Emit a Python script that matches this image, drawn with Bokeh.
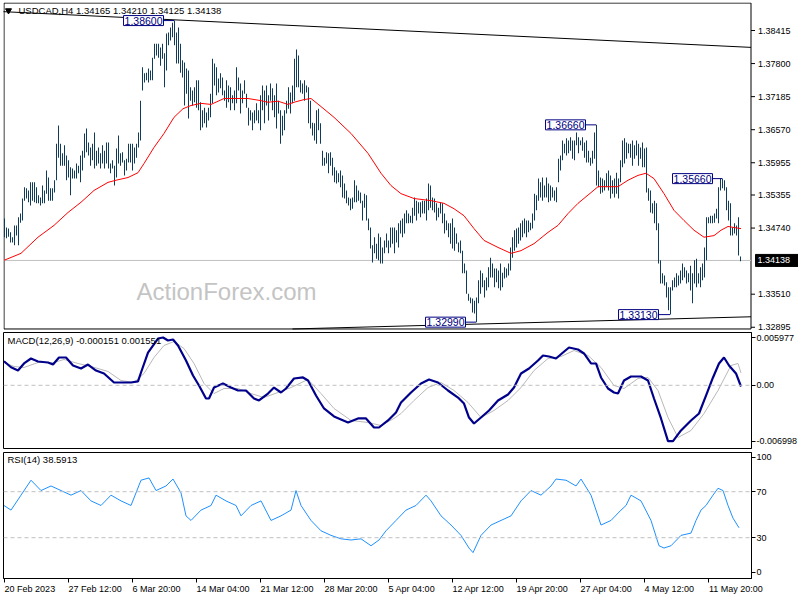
from bokeh.plotting import figure
from bokeh.layouts import column
from bokeh.models import Range1d, FixedTicker, CustomJSTickFormatter, Label, Span
from bokeh.core.properties import value
from bokeh.embed import file_html
from bokeh.resources import INLINE

# ---------------- data ----------------
high = [
1.3492,1.3475,1.3473,1.3466,1.3457,1.3479,1.3479,1.3494,1.3501,1.3529,
1.3550,1.3548,1.3544,1.3559,1.3559,1.3559,1.3550,1.3535,1.3531,1.3553,
1.3544,1.3581,1.3568,1.3548,1.3548,1.3563,1.3631,1.3665,1.3631,1.3613,
1.3628,1.3609,1.3600,1.3587,1.3585,1.3581,1.3594,1.3590,1.3609,1.3618,
1.3650,1.3659,1.3633,1.3624,1.3631,1.3652,1.3618,1.3624,1.3613,1.3628,
1.3618,1.3633,1.3633,1.3594,1.3600,1.3590,1.3622,1.3646,1.3613,1.3615,
1.3600,1.3603,1.3631,1.3631,1.3631,1.3624,1.3631,1.3652,1.3711,1.3773,
1.3762,1.3763,1.3771,1.3767,1.3791,1.3817,1.3817,1.3817,1.3810,1.3817,
1.3799,1.3836,1.3838,1.3847,1.3856,1.3860,1.3838,1.3847,1.3817,1.3786,
1.3782,1.3771,1.3767,1.3736,1.3730,1.3736,1.3749,1.3749,1.3708,1.3693,
1.3698,1.3689,1.3698,1.3724,1.3789,1.3780,1.3773,1.3752,1.3762,1.3754,
1.3730,1.3749,1.3739,1.3736,1.3721,1.3730,1.3773,1.3754,1.3743,1.3730,
1.3749,1.3724,1.3698,1.3693,1.3689,1.3693,1.3706,1.3693,1.3721,1.3739,
1.3730,1.3739,1.3721,1.3743,1.3734,1.3721,1.3743,1.3711,1.3693,1.3683,
1.3693,1.3711,1.3736,1.3726,1.3739,1.3789,1.3806,1.3795,1.3749,1.3743,
1.3749,1.3739,1.3736,1.3711,1.3670,1.3669,1.3693,1.3696,1.3669,1.3618,
1.3605,1.3615,1.3613,1.3615,1.3605,1.3587,1.3581,1.3576,1.3581,1.3572,
1.3557,1.3544,1.3531,1.3529,1.3531,1.3563,1.3553,1.3544,1.3540,1.3525,
1.3538,1.3535,1.3492,1.3475,1.3442,1.3457,1.3445,1.3464,1.3457,1.3438,
1.3451,1.3464,1.3451,1.3475,1.3475,1.3475,1.3470,1.3483,1.3488,1.3492,
1.3501,1.3507,1.3501,1.3497,1.3512,1.3531,1.3525,1.3522,1.3522,1.3525,
1.3525,1.3529,1.3557,1.3553,1.3531,1.3529,1.3520,1.3512,1.3522,1.3520,
1.3501,1.3488,1.3483,1.3483,1.3492,1.3475,1.3464,1.3447,1.3451,1.3432,
1.3408,1.3395,1.3352,1.3345,1.3343,1.3339,1.3345,1.3377,1.3395,1.3390,
1.3377,1.3382,1.3401,1.3419,1.3408,1.3399,1.3399,1.3395,1.3408,1.3391,
1.3401,1.3399,1.3408,1.3438,1.3457,1.3470,1.3473,1.3475,1.3483,1.3488,
1.3492,1.3488,1.3488,1.3484,1.3501,1.3538,1.3535,1.3566,1.3559,1.3568,
1.3553,1.3568,1.3557,1.3553,1.3550,1.3544,1.3550,1.3603,1.3609,1.3637,
1.3631,1.3641,1.3637,1.3643,1.3637,1.3637,1.3652,1.3643,1.3637,1.3643,
1.3633,1.3637,1.3618,1.3605,1.3618,1.3652,1.3666,1.3581,1.3568,1.3566,
1.3563,1.3576,1.3581,1.3572,1.3563,1.3566,1.3577,1.3566,1.3600,1.3637,
1.3641,1.3633,1.3631,1.3631,1.3637,1.3628,1.3637,1.3631,1.3624,1.3633,
1.3622,1.3624,1.3548,1.3544,1.3520,1.3525,1.3520,1.3483,1.3414,1.3390,
1.3386,1.3373,1.3364,1.3364,1.3377,1.3382,1.3390,1.3386,1.3395,1.3408,
1.3401,1.3395,1.3390,1.3404,1.3390,1.3414,1.3417,1.3390,1.3401,1.3408,
1.3438,1.3494,1.3494,1.3497,1.3497,1.3501,1.3510,1.3550,1.3566,1.3566,
1.3563,1.3550,1.3525,1.3520,1.3475,1.3483,1.3479,1.3494,1.34210]

low = [
1.3457,1.3455,1.3458,1.3447,1.3447,1.3442,1.3460,1.3442,1.3484,1.3488,
1.3525,1.3529,1.3522,1.3516,1.3525,1.3522,1.3520,1.3520,1.3516,1.3520,
1.3520,1.3538,1.3525,1.3525,1.3525,1.3540,1.3563,1.3605,1.3590,1.3590,
1.3590,1.3563,1.3568,1.3535,1.3566,1.3566,1.3566,1.3576,1.3559,1.3581,
1.3605,1.3615,1.3609,1.3590,1.3600,1.3585,1.3590,1.3594,1.3585,1.3594,
1.3585,1.3594,1.3585,1.3576,1.3585,1.3553,1.3568,1.3594,1.3590,1.3596,
1.3572,1.3581,1.3596,1.3596,1.3581,1.3594,1.3605,1.3624,1.3637,1.3730,
1.3745,1.3749,1.3745,1.3749,1.3749,1.3789,1.3795,1.3791,1.3776,1.3789,
1.3736,1.3767,1.3814,1.3823,1.3829,1.3814,1.3780,1.3780,1.3763,1.3754,
1.3702,1.3724,1.3678,1.3711,1.3702,1.3708,1.3698,1.3693,1.3656,1.3661,
1.3669,1.3661,1.3674,1.3680,1.3706,1.3739,1.3721,1.3726,1.3734,1.3721,
1.3711,1.3698,1.3708,1.3693,1.3706,1.3693,1.3706,1.3730,1.3687,1.3706,
1.3724,1.3698,1.3665,1.3674,1.3656,1.3669,1.3674,1.3669,1.3656,1.3693,
1.3669,1.3702,1.3674,1.3711,1.3693,1.3680,1.3659,1.3687,1.3631,1.3646,
1.3656,1.3687,1.3696,1.3687,1.3706,1.3711,1.3736,1.3736,1.3726,1.3724,
1.3711,1.3726,1.3669,1.3659,1.3646,1.3637,1.3631,1.3656,1.3631,1.3590,
1.3590,1.3594,1.3576,1.3590,1.3572,1.3559,1.3557,1.3559,1.3550,1.3531,
1.3529,1.3520,1.3516,1.3507,1.3510,1.3522,1.3522,1.3525,1.3520,1.3488,
1.3512,1.3488,1.3470,1.3436,1.3410,1.3427,1.3417,1.3414,1.3408,1.3408,
1.3427,1.3438,1.3427,1.3438,1.3445,1.3427,1.3447,1.3438,1.3464,1.3457,
1.3464,1.3483,1.3483,1.3484,1.3483,1.3497,1.3488,1.3501,1.3494,1.3501,
1.3501,1.3488,1.3507,1.3512,1.3507,1.3503,1.3488,1.3494,1.3501,1.3483,
1.3464,1.3470,1.3457,1.3445,1.3436,1.3432,1.3445,1.3429,1.3427,1.3390,
1.3390,1.3352,1.3339,1.3334,1.3317,1.3315,1.3299,1.3334,1.3352,1.3364,
1.3345,1.3358,1.3364,1.3382,1.3382,1.3364,1.3373,1.3362,1.3358,1.3364,
1.3380,1.3382,1.3386,1.3395,1.3419,1.3432,1.3438,1.3445,1.3451,1.3457,
1.3464,1.3457,1.3466,1.3470,1.3473,1.3488,1.3507,1.3525,1.3531,1.3525,
1.3531,1.3531,1.3522,1.3525,1.3531,1.3525,1.3522,1.3559,1.3581,1.3600,
1.3613,1.3609,1.3613,1.3618,1.3603,1.3600,1.3628,1.3613,1.3628,1.3618,
1.3605,1.3596,1.3596,1.3590,1.3594,1.3603,1.3553,1.3550,1.3538,1.3540,
1.3544,1.3550,1.3544,1.3529,1.3538,1.3531,1.3538,1.3529,1.3559,1.3587,
1.3594,1.3603,1.3613,1.3605,1.3590,1.3603,1.3609,1.3590,1.3603,1.3587,
1.3587,1.3540,1.3525,1.3503,1.3501,1.3483,1.3470,1.3408,1.3371,1.3371,
1.3367,1.3345,1.3321,1.3313,1.3358,1.3364,1.3364,1.3367,1.3371,1.3377,
1.3382,1.3371,1.3373,1.3358,1.3334,1.3371,1.3364,1.3371,1.3364,1.3377,
1.3382,1.3414,1.3483,1.3483,1.3483,1.3484,1.3492,1.3483,1.3544,1.3548,
1.3544,1.3507,1.3488,1.3460,1.3460,1.3464,1.3460,1.3423,1.34125]

ma_i = [0,8.5,17,25,32,38.5,45,52,56,62,67,70,75,80,85,89.5,93.5,98.5,103.5,110,
        115,122,128.5,132,137,142,145,150,153.5,158.5,165,173.5,182,188.5,193.5,198.5,205,213.5,220,225,
        230,235,240,247,253.5,258.5,265,272,277,282,287,293.5,297,307,312,317,321,325,330,335,
        340,345,350,355,358.5,362,365,368.5]
ma_v = [1.3414,1.3427,1.3457,1.3479,1.3503,1.3522,1.3544,1.3559,1.3563,1.3568,
        1.3577,1.3594,1.3624,1.3650,1.3680,1.3696,1.3702,1.3706,1.3704,1.3715,
        1.3715,1.3715,1.3711,1.3708,1.3710,1.3704,1.3708,1.3713,1.3715,1.3700,
        1.3680,1.3650,1.3613,1.3576,1.3553,1.3538,1.3529,1.3525,1.3520,1.3510,
        1.3497,1.3473,1.3451,1.3438,1.3427,1.3432,1.3445,1.3466,1.3479,1.3501,
        1.3520,1.3540,1.3551,1.3551,1.3563,1.3572,1.3576,1.3566,1.3538,1.3507,
        1.3488,1.3470,1.3457,1.3460,1.3470,1.3477,1.3475,1.3473]

macd_i = [0,3.5,7,10,13.5,17,22,24.5,27.5,31,34.5,38.5,42,46,50,55,60,63.5,67,68.5,
          72,77,79.5,82,84.5,87,91,94.5,97.5,101,102.5,105,109.5,113.5,117,121,125,127.5,132,135,
          138.5,141,145,149.5,152,156,160,165,172,177,181,185,187.5,192,196,198.5,203.5,208.5,212.5,217,
          222,227,230,232.5,235,238.5,242.5,247,252,255,258.5,262.5,267,269.5,272.5,276,279.5,282.5,287,290,
          293.5,296,298.5,302,305,307,310,313.5,318.5,322,325,328.5,332,334.5,338.5,343.5,347.5,351,354.5,357.5,
          360,362.5,366,368.5]
macd_v = [0.00301,0.00226,0.00185,0.00273,0.00335,0.00298,0.00285,0.00260,0.00348,0.00348,
          0.00248,0.00210,0.00260,0.00185,0.00148,0.00035,0.00035,0.00035,0.00048,0.00160,
          0.00410,0.00585,0.00598,0.00560,0.00573,0.00498,0.00310,0.00123,-0.00003,-0.00165,
          -0.00165,-0.00028,0.00023,-0.00028,-0.00065,-0.00065,-0.00165,-0.00190,-0.00103,-0.00028,
          -0.00090,-0.00040,0.00085,0.00098,0.00060,-0.00128,-0.00290,-0.00390,-0.00465,-0.00415,
          -0.00415,-0.00528,-0.00528,-0.00440,-0.00340,-0.00215,-0.00090,0.00023,0.00073,0.00035,
          -0.00065,-0.00153,-0.00228,-0.00403,-0.00478,-0.00403,-0.00315,-0.00190,-0.00115,-0.00028,
          0.00148,0.00210,0.00310,0.00373,0.00360,0.00335,0.00410,0.00473,0.00448,0.00398,
          0.00273,0.00273,0.00098,-0.00040,-0.00090,-0.00103,0.00060,0.00110,0.00110,0.00060,
          -0.00165,-0.00415,-0.00699,-0.00699,-0.00565,-0.00440,-0.00353,-0.00128,0.00098,0.00273,
          0.00348,0.00248,0.00148,-0.00015]

sig_i = [0,5,10,17,25,30,37,43.5,52,58.5,65,70,75,80,85,90,95,100,105,110,
         117,123.5,130,137,143.5,152,158.5,165,173.5,182,188.5,195,198.5,205,212,218.5,225,232,238.5,245,
         252,258.5,265,272,278.5,285,292,298.5,305,310,317,322,327,332,337,343.5,350,357,363.5,367,368.5]
sig_v = [0.00285,0.00235,0.00223,0.00285,0.00285,0.00323,0.00273,0.00235,0.00173,0.00060,
         0.00035,0.00148,0.00348,0.00498,0.00548,0.00460,0.00273,0.00023,-0.00103,-0.00040,
         -0.00040,-0.00103,-0.00153,-0.00090,-0.00028,0.00073,-0.00103,-0.00290,-0.00440,-0.00465,
         -0.00503,-0.00415,-0.00353,-0.00190,-0.00028,0.00035,-0.00065,-0.00215,-0.00403,-0.00315,
         -0.00190,-0.00028,0.00185,0.00335,0.00360,0.00435,0.00373,0.00223,-0.00003,-0.00040,
         0.00085,0.00098,-0.00065,-0.00403,-0.00653,-0.00565,-0.00353,-0.00065,0.00248,0.00273,
         0.00155]

rsi_i = [0,3.5,8.5,13.5,18.5,23.5,28.5,33.5,38.5,43.5,48.5,53.5,58.5,63.5,68.5,72.5,76,81,84.5,88.5,
         91,93.5,98.5,103.5,106,111,116,118.5,123.5,128.5,133.5,138.5,143.5,146,148.5,153.5,158.5,163.5,168.5,173.5,
         178.5,183.5,187.5,191,196,201,206,211,213.5,218.5,223.5,228.5,232.5,234.5,238.5,243.5,248.5,253.5,258.5,263.5,
         268.5,273.5,276,281,286,288.5,293.5,298.5,303.5,308.5,311,313.5,318.5,323.5,327.5,330,333.5,338.5,343.5,346,
         348.5,351,354.5,357,359.5,362,364.5,367.5]
rsi_v = [58,54,67,80,71,75,71,67,71,62,58,67,62,58,80,82,71,75,81,69,
         49,45,54,58,67,62,58,49,58,62,45,49,54,71,58,45,36,32,29,28,
         29,23,28,36,45,54,58,67,62,49,41,32,21,17,32,41,45,49,62,71,
         67,75,81,80,75,81,67,41,45,54,58,67,62,45,23,21,23,32,34,45,
         54,58,67,73,71,58,47,38.6]

x_tick_idx = [0, 32, 64, 96, 128, 160, 192, 224, 256, 288, 320, 352]
x_tick_lbl = ["20 Feb 2023", "27 Feb 12:00", "6 Mar 20:00", "14 Mar 04:00", "21 Mar 12:00",
              "28 Mar 20:00", "5 Apr 04:00", "12 Apr 12:00", "19 Apr 20:00", "27 Apr 04:00",
              "4 May 12:00", "11 May 20:00"]
price_ticks = [1.38415, 1.37800, 1.37185, 1.36570, 1.35955, 1.35355, 1.34740, 1.33510, 1.32895]
macd_ticks = [0.005977, 0.0, -0.006998]
rsi_ticks = [100, 70, 30, 0]
last_price = 1.34138

# marked extremes: (label box right edge, bar of the extreme, price, text)
marks = [(79.75, 85, 1.38600, "1.38600"), (290.75, 296, 1.36660, "1.36660"),
         (230.75, 236, 1.32990, "1.32990"), (327.25, 333, 1.33130, "1.33130"),
         (354.25, 359, 1.35660, "1.35660")]
upper_tl = ([-1.75, 373.5], [1.38768, 1.38101])
lower_tl = ([144.25, 373.5], [1.32863, 1.33090])

# ---------------- styling / layout ----------------
FONT = "Liberation Sans"
FS = "9.5px"
AFS = "9px"
BAR = "#103c5a"
PX = 2.0                    # pixels per bar
FRAME_W = 748
X0 = -0.25
X1 = X0 + FRAME_W / PX       # 373.75 : right frame edge
P_LO, P_HI = 1.32816, 1.38936   # price frame (bottom border drawn at 1.32863)
BORDER_TOP, BORDER_BOT, BORDER_R = 1.38926, 1.32863, 373.5
COL = 0.5                    # one pixel column, in bar units


def style_axis(ax, ticks, code):
    ax.ticker = FixedTicker(ticks=ticks, minor_ticks=[])
    ax.formatter = CustomJSTickFormatter(code=code)
    ax.axis_line_color = "black"
    ax.major_tick_in = 0
    ax.major_tick_out = 4
    ax.major_tick_line_color = "black"
    ax.minor_tick_line_color = None
    ax.major_label_standoff = 1
    ax.major_label_text_font = FONT
    ax.major_label_text_font_size = AFS
    ax.major_label_text_color = "black"


def base(fig):
    fig.grid.visible = False
    fig.background_fill_color = "white"
    fig.border_fill_color = "white"
    return fig


# ---------- price panel (its right-hand price scale is drawn in the widened frame) ----------
p1 = base(figure(frame_width=795, frame_height=329, x_range=Range1d(X0, X0 + 795 / PX),
                 y_range=Range1d(P_LO, P_HI), output_backend="svg", toolbar_location=None,
                 tools="", x_axis_location=None, y_axis_location=None,
                 min_border_left=3, min_border_right=0, min_border_top=2, min_border_bottom=0))
p1.outline_line_color = None
p1.line([0.0, BORDER_R, BORDER_R, 0.0, 0.0],
        [BORDER_TOP, BORDER_TOP, BORDER_BOT, BORDER_BOT, BORDER_TOP], line_color="black", line_width=1)
p1.segment(x0=[0.0], y0=[last_price], x1=[BORDER_R], y1=[last_price], line_color="#c0c0c0", line_width=1)
bars_x = list(range(len(high)))
# each H4 bar (high-low range) as a one-pixel-wide column
p1.quad(left=bars_x, right=[i + COL for i in bars_x], bottom=low, top=high,
        fill_color=BAR, line_color=None)
p1.line(ma_i, ma_v, line_color="#ff0000", line_width=1)
p1.line(upper_tl[0], upper_tl[1], line_color="black", line_width=1)
p1.line(lower_tl[0], lower_tl[1], line_color="black", line_width=1)

for box_x, bar_x, val, txt in marks:
    p1.segment(x0=[box_x], y0=[val], x1=[bar_x], y1=[val], line_color="#000080", line_width=1)
    p1.add_layout(Label(x=box_x, y=val, text=txt, text_align="right", text_baseline="middle",
                        text_font=FONT, text_font_size="10.5px", text_color="#000080",
                        background_fill_color="white", border_line_color="#000080",
                        border_line_width=1, padding=1))

p1.add_layout(Label(x=66.25, y=1.3356, text="ActionForex.com", text_font=FONT,
                    text_font_size="24px", text_color="#c4c4c4", text_baseline="middle"))
p1.scatter([2.25], [1.38787], marker="inverted_triangle", size=6, color="black")
p1.add_layout(Label(x=7.25, y=1.38787, text="USDCAD,H4  1.34165 1.34210 1.34125 1.34138",
                    text_font=FONT, text_font_size=FS, text_color="black", text_baseline="middle"))

# price scale: ticks, labels and the black box of the last price
n = len(price_ticks)
p1.segment(x0=[BORDER_R] * n, y0=price_ticks, x1=[BORDER_R + 2.0] * n, y1=price_ticks,
           line_color="black", line_width=1)
p1.text(x=[377.0] * n, y=price_ticks, text=[f"{t:.5f}" for t in price_ticks],
        text_font=value(FONT), text_font_size=value(AFS), text_color="black",
        text_baseline="middle", text_align="left")
p1.rect(x=[386.5], y=[last_price], width=43, height=12, width_units="screen",
        height_units="screen", fill_color="black", line_color="black")
p1.text(x=[376.75], y=[last_price], text=[f"{last_price:.5f}"], text_font=value(FONT),
        text_font_size=value(AFS), text_color="white", text_baseline="middle", text_align="left")

xr = Range1d(X0, X1)

# ---------- MACD panel ----------
p2 = base(figure(frame_width=FRAME_W, frame_height=116, x_range=xr,
                 y_range=Range1d(-0.007906, 0.006605), output_backend="svg",
                 toolbar_location=None, tools="", x_axis_location=None, y_axis_location="right",
                 min_border_left=3, min_border_right=47, min_border_top=1, min_border_bottom=2))
p2.outline_line_color = "black"
style_axis(p2.yaxis[0], macd_ticks,
           "if (Math.abs(tick) < 1e-9) { return '0.00'; } return tick.toFixed(6);")
p2.add_layout(Span(location=0, dimension="width", line_color="#c0c0c0", line_width=1, line_dash="4 3"))
p2.line(sig_i, sig_v, line_color="#b8b8b8", line_width=1)
p2.line(macd_i, macd_v, line_color="#00008b", line_width=2.2)
p2.add_layout(Label(x=1.75, y=0.0056, text="MACD(12,26,9) -0.000151 0.001551", text_font=FONT,
                    text_font_size=FS, text_color="black", text_baseline="middle"))

# ---------- RSI panel ----------
p3 = base(figure(frame_width=FRAME_W, frame_height=126, x_range=xr,
                 y_range=Range1d(-5.5, 104.1), output_backend="svg",
                 toolbar_location=None, tools="", x_axis_location="below", y_axis_location="right",
                 min_border_left=3, min_border_right=47, min_border_top=2, min_border_bottom=20))
p3.outline_line_color = "black"
style_axis(p3.yaxis[0], rsi_ticks, "return tick.toFixed(0);")
for lv in (70, 30):
    p3.add_layout(Span(location=lv, dimension="width", line_color="#c0c0c0", line_width=1, line_dash="4 3"))
p3.line(rsi_i, rsi_v, line_color="#1e90ff", line_width=1)
p3.add_layout(Label(x=1.75, y=98.0, text="RSI(14) 38.5913", text_font=FONT,
                    text_font_size=FS, text_color="black", text_baseline="middle"))

# time axis: labels start at their tick, as in MetaTrader -> label centres shifted right
CW = {" ": .278, ":": .278, "F": .611, "e": .556, "b": .556, "M": .833, "a": .556,
      "r": .333, "A": .667, "p": .556, "y": .5}
def text_px(s, size=9.0):
    return sum(CW.get(c, .556) for c in s) * size

centers = [t + text_px(s) / (2 * PX) + 0.3 for t, s in zip(x_tick_idx, x_tick_lbl)]
xa = p3.xaxis[0]
xa.ticker = FixedTicker(ticks=centers, minor_ticks=x_tick_idx)
xa.formatter = CustomJSTickFormatter(args=dict(centers=centers, labels=x_tick_lbl), code="""
for (let k = 0; k < centers.length; k++) {
  if (Math.abs(centers[k] - tick) < 1e-6) { return labels[k]; }
}
return '';
""")
xa.axis_line_color = "black"
xa.major_tick_in = 0
xa.major_tick_out = 3
xa.major_tick_line_color = None
xa.minor_tick_in = 0
xa.minor_tick_out = 4
xa.minor_tick_line_color = "black"
xa.major_label_standoff = 1
xa.major_label_text_font = FONT
xa.major_label_text_font_size = AFS
xa.major_label_text_color = "black"

layout = column(p1, p2, p3, spacing=0)
open("out.html", "w").write(file_html(layout, INLINE))
